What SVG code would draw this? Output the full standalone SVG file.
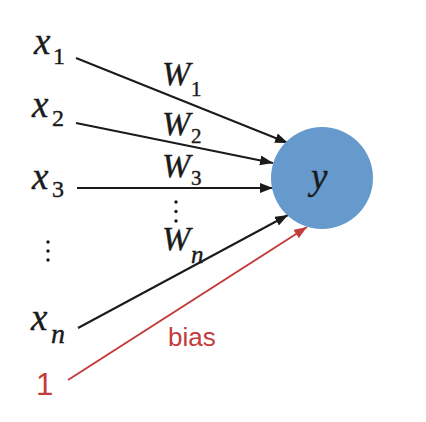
<svg xmlns="http://www.w3.org/2000/svg" width="426" height="422" viewBox="0 0 426 422">
<style>
.m{font-family:"Liberation Serif",serif;font-style:italic;fill:#1a1a1a;stroke:#1a1a1a;stroke-width:0.4}
.xx{font-size:37px}
.big{font-size:34px}
.sub{font-size:24px}
.ws{font-size:21px}
.up{font-style:normal}
.edge{stroke:#1a1a1a;stroke-width:2;fill:none}
.red{stroke:#c43b3b}
.rt{font-family:"Liberation Sans",sans-serif;fill:#c43b3b}
</style>
<defs>
<marker id="ah" markerUnits="userSpaceOnUse" markerWidth="14" markerHeight="12" refX="13" refY="5" orient="auto">
<path d="M0,0 L13,5 L0,10 Z" fill="#1a1a1a"/>
</marker>
<marker id="ahr" markerUnits="userSpaceOnUse" markerWidth="14" markerHeight="12" refX="13" refY="5" orient="auto">
<path d="M0,0 L13,5 L0,10 Z" fill="#c43b3b"/>
</marker>
</defs>
<rect width="426" height="422" fill="#ffffff"/>
<g id="connectors">
<line class="edge" x1="76" y1="58" x2="288" y2="143" marker-end="url(#ah)"/>
<line class="edge" x1="76" y1="123" x2="273" y2="163" marker-end="url(#ah)"/>
<line class="edge" x1="77" y1="188" x2="273" y2="188" marker-end="url(#ah)"/>
<line class="edge" x1="78" y1="328" x2="288" y2="215" marker-end="url(#ah)"/>
<line class="edge red" x1="68" y1="380" x2="307" y2="227" marker-end="url(#ahr)"/>
<text class="m big" x="162" y="85">W</text><text class="m ws up" x="191" y="96">1</text>
<text class="m big" x="162" y="135">W</text><text class="m ws up" x="191" y="143">2</text>
<text class="m big" x="162" y="177">W</text><text class="m ws up" x="191" y="185">3</text>
<g fill="#1a1a1a"><circle cx="176" cy="202" r="1.7"/><circle cx="176" cy="211.5" r="1.7"/><circle cx="176" cy="221" r="1.7"/></g>
<text class="m big" x="162" y="250">W</text><text class="m" font-size="25" x="191" y="263">n</text>
<text class="rt" x="168" y="346" font-size="26">bias</text>
</g>
<g id="x1"><text class="m xx" x="34" y="54">x</text><text class="m sub up" x="53" y="64">1</text></g>
<g id="x2"><text class="m xx" x="32" y="117">x</text><text class="m sub up" x="52" y="126">2</text></g>
<g id="x3"><text class="m xx" x="32" y="189">x</text><text class="m sub up" x="52" y="197">3</text></g>
<g id="xdots" fill="#1a1a1a"><circle cx="48" cy="242" r="1.7"/><circle cx="48" cy="251" r="1.7"/><circle cx="48" cy="260" r="1.7"/></g>
<g id="xn"><text class="m xx" x="31" y="330">x</text><text class="m" font-size="28" x="51" y="343">n</text></g>
<g id="one"><text class="rt" x="36" y="395" font-size="31">1</text></g>
<g id="neuron">
<circle cx="322" cy="178" r="51" fill="#6699cc"/>
<text class="m xx" x="311" y="189">y</text>
</g>
</svg>
